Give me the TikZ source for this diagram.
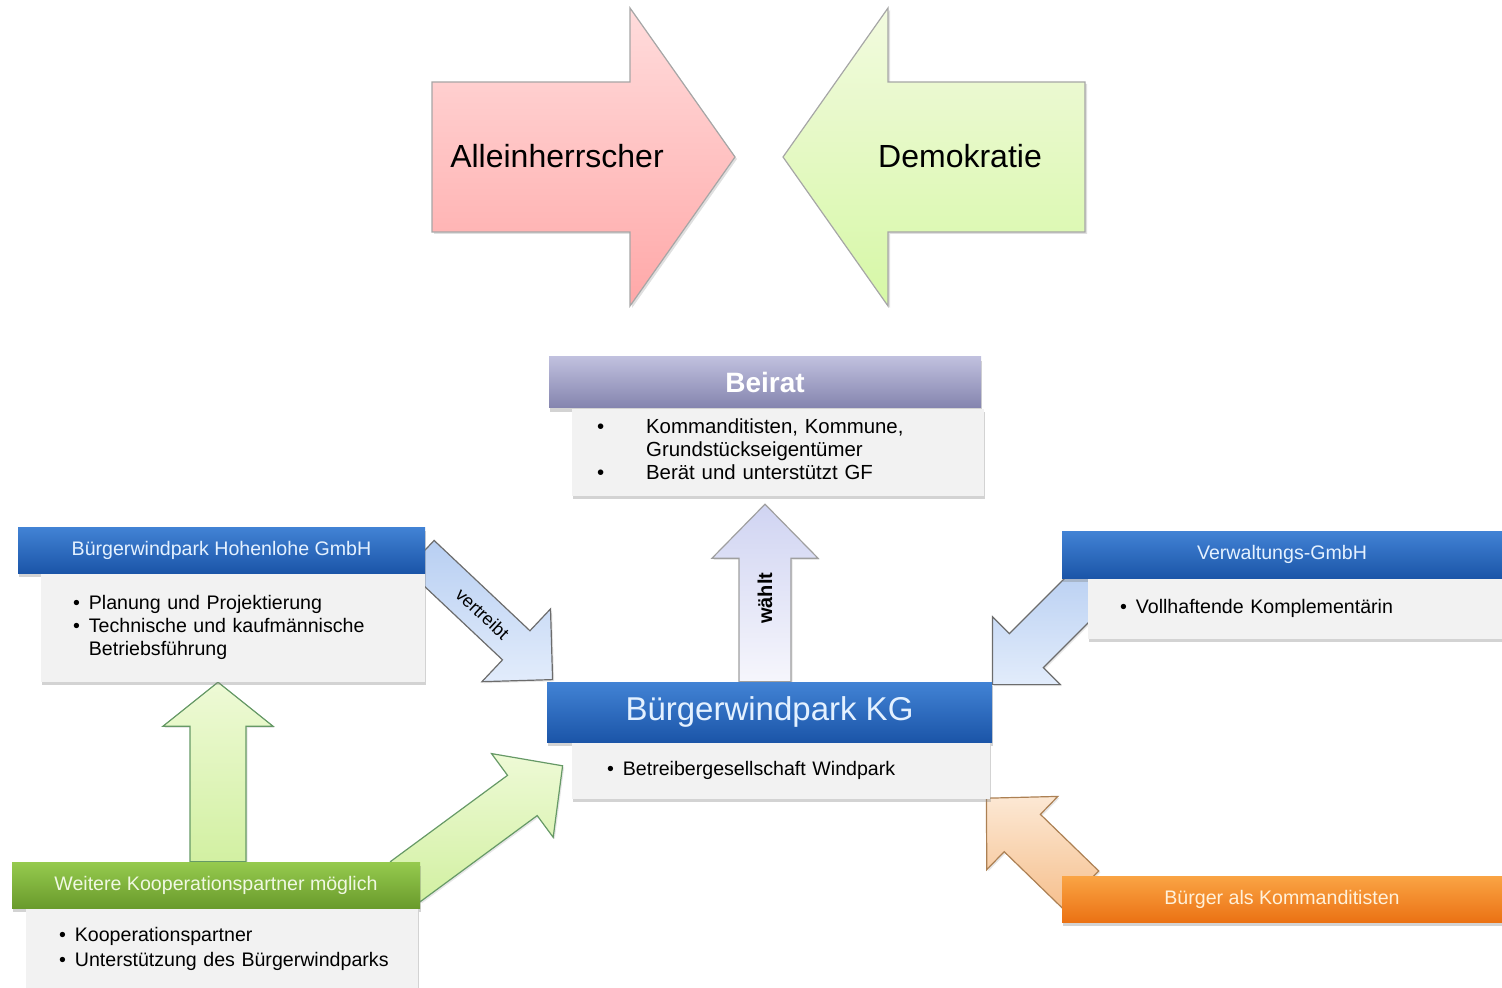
\documentclass[tikz,border=0pt]{standalone}
\usepackage{fontspec}
\setmainfont{Liberation Sans}
\usetikzlibrary{positioning}
\usetikzlibrary{calc}
\usetikzlibrary{shadows}
\usetikzlibrary{backgrounds}

\definecolor{bluetop}{HTML}{4283D5}
\definecolor{bluebot}{HTML}{1B55A8}
\definecolor{bluetxt}{HTML}{E4F1FF}
\definecolor{beirattop}{HTML}{C0C0DE}
\definecolor{beiratbot}{HTML}{8484AE}
\definecolor{greentop}{HTML}{96CA4E}
\definecolor{greenbot}{HTML}{699B2C}
\definecolor{greentxt}{HTML}{F0F8E2}
\definecolor{orangetop}{HTML}{FAA444}
\definecolor{orangebot}{HTML}{EB7214}
\definecolor{orangetxt}{HTML}{FFF1DA}
\definecolor{bodygray}{HTML}{F2F2F2}
\definecolor{redtop}{HTML}{FFDCDC}
\definecolor{redbot}{HTML}{FFA8A8}
\definecolor{limetop}{HTML}{F2FADF}
\definecolor{limebot}{HTML}{D6F8A6}
\definecolor{blarrtop}{HTML}{B8CFF2}
\definecolor{blarrbot}{HTML}{E2ECFB}
\definecolor{lvarrtop}{HTML}{D0D4F2}
\definecolor{lvarrbot}{HTML}{F6F6FC}
\definecolor{grarrtop}{HTML}{EEFAD6}
\definecolor{grarrbot}{HTML}{D2F0A2}
\definecolor{orarrtop}{HTML}{FCE8D4}
\definecolor{orarrbot}{HTML}{F6C08E}

\tikzset{
hdr/.style={
  rectangle,
  inner sep=0pt,
  minimum height=23pt,
  align=center,
  font=\fontsize{9.8}{11}\selectfont,
  drop shadow={opacity=0.35,shadow xshift=0.6pt,shadow yshift=-2pt}
  },
bluehdr/.style={hdr,top color=bluetop,bottom color=bluebot,text=bluetxt},
beirathdr/.style={hdr,top color=beirattop,bottom color=beiratbot,text=white,
  font=\bfseries\fontsize{14}{16}\selectfont},
greenhdr/.style={hdr,top color=greentop,bottom color=greenbot,text=greentxt},
orangehdr/.style={hdr,top color=orangetop,bottom color=orangebot,text=orangetxt},
body/.style={
  rectangle,
  inner xsep=16pt,
  inner ysep=0pt,
  align=left,
  fill=bodygray,
  font=\fontsize{9.8}{11.5}\selectfont,
  drop shadow={opacity=0.35,shadow xshift=0.6pt,shadow yshift=-1.8pt}
  },
bigarrow/.style={draw=gray!70,line width=0.6pt,
  drop shadow={opacity=0.25,shadow xshift=1pt,shadow yshift=-1pt}},
bigtxt/.style={font=\fontsize{16}{19}\selectfont},
blk/.style={line width=0.6pt,
  drop shadow={opacity=0.2,shadow xshift=0.8pt,shadow yshift=-0.8pt}},
bluearrow/.style={blk,draw=gray!85!black,top color=blarrtop,bottom color=blarrbot},
lavarrow/.style={blk,draw=gray!75,top color=lvarrtop,bottom color=lvarrbot},
greenarrow/.style={blk,draw=gray!50!green!40!gray,top color=grarrtop,bottom color=grarrbot},
orangearrow/.style={blk,draw=orange!35!gray,top color=orarrtop,bottom color=orarrbot}
}

% [style]{from}{to}{half shaft}{half head}{head length}
\newcommand{\blockarrow}[6][]{%
  \coordinate (hb) at ($(#3)!#6!(#2)$);
  \path[#1] ($(#2)!#4!90:(#3)$) -- ($(hb)!#4!90:(#3)$) -- ($(hb)!#5!90:(#3)$)
    -- (#3) -- ($(hb)!#5!-90:(#3)$) -- ($(hb)!#4!-90:(#3)$)
    -- ($(#2)!#4!-90:(#3)$) -- cycle;
}

\begin{document}
\begin{tikzpicture}[x=0.5pt,y=-0.5pt]
    \useasboundingbox (0,0) rectangle (1502,988);

    % top arrows
    \path[bigarrow,top color=redtop,bottom color=redbot]
      (432,82) -- (630,82) -- (630,8) -- (735,157) -- (630,306) -- (630,232) -- (432,232) -- cycle;
    \node[bigtxt] (allein) at (557,156) {Alleinherrscher};
    \path[bigarrow,top color=limetop,bottom color=limebot]
      (1085,82) -- (888,82) -- (888,8) -- (783,157) -- (888,306) -- (888,232) -- (1085,232) -- cycle;
    \node[bigtxt] (demo) at (960,156) {Demokratie};

    % boxes
    \node[beirathdr,minimum width=216pt,minimum height=25.5pt] (beirat) at (765,382.5) {Beirat};
    \node[body,text width=181pt,inner xsep=12.5pt,minimum height=43.5pt,font=\fontsize{10.2}{11.5}\selectfont]
      (beiratb) [below left=0pt and -1.5pt of beirat.south east]
      {\begin{tabular}{@{}l@{\hspace{21pt}}l@{}}
       \textbullet & Kommanditisten, Kommune,\\
                   & Grundstückseigentümer\\
       \textbullet & Berät und unterstützt GF
       \end{tabular}};

    \node[bluehdr,minimum width=203.5pt] (hohen) at (221.5,550) {Bürgerwindpark Hohenlohe GmbH};
    \node[body,text width=160pt,minimum height=54pt] (hohenb) [below left=0pt and 0pt of hohen.south east]
      {\begin{tabular}{@{}l@{\hspace{4.5pt}}l@{}}
       \textbullet & Planung und Projektierung\\
       \textbullet & Technische und kaufmännische\\
                   & Betriebsführung
       \end{tabular}};

    \node[bluehdr,minimum width=220pt,minimum height=23.5pt] (verw) at (1282,554.5) {Verwaltungs-GmbH};
    \node[body,text width=175pt,minimum height=30pt] (verwb) [below left=0pt and 0pt of verw.south east]
      {\textbullet\hspace{4.5pt}Vollhaftende Komplementärin};

    \node[bluehdr,minimum width=222.5pt,minimum height=30pt,font=\fontsize{16.5}{19}\selectfont] (kg) at (769.5,712) {Bürgerwindpark KG};
    \node[body,text width=174pt,inner xsep=17.5pt,minimum height=28pt] (kgb) [below left=0pt and 1pt of kg.south east]
      {\textbullet\hspace{4.5pt}Betreibergesellschaft Windpark};

    \node[greenhdr,minimum width=204pt] (weitere) at (216,885) {Weitere Kooperationspartner möglich};
    \node[body,text width=163pt,inner xsep=16.5pt,minimum height=40pt,font=\fontsize{9.8}{12.5}\selectfont]
      (weitereb) [below left=0pt and 1pt of weitere.south east]
      {\begin{tabular}{@{}l@{\hspace{4.5pt}}l@{}}
       \textbullet & Kooperationspartner\\
       \textbullet & Unterstützung des Bürgerwindparks
       \end{tabular}};

    \node[orangehdr,minimum width=220pt] (buerger) at (1282,899) {Bürger als Kommanditisten};

    % block arrows behind the boxes
    \begin{pgfonlayer}{background}
    \coordinate (ws) at (beirat.center |- kg.north);
    \coordinate (wt) at ($(beirat.center |- beiratb.south)+(0,8)$);
    \blockarrow[lavarrow]{ws}{wt}{13pt}{26.5pt}{27pt}

    \coordinate (vs) at ($(hohen.east)+(-5,5)$);
    \coordinate (vt) at ($(kg.north west)+(6,-2)$);
    \blockarrow[bluearrow]{vs}{vt}{10pt}{25pt}{25pt}

    \coordinate (ks) at ($(verw.south west)+(33,4)$);
    \coordinate (kt) at ($(kg.north east)+(0,3)$);
    \blockarrow[bluearrow]{ks}{kt}{12pt}{24pt}{24pt}

    \coordinate (gs) at ($(weitere.north)+(2,0)$);
    \coordinate (gt) at (gs |- hohenb.south);
    \blockarrow[greenarrow]{gs}{gt}{14pt}{27.5pt}{22pt}

    \coordinate (ds) at ($(weitere.north east)+(-15,20)$);
    \coordinate (dt) at ($(kgb.west)+(-9,-5)$);
    \blockarrow[greenarrow]{ds}{dt}{12.5pt}{26pt}{25pt}

    \coordinate (os) at ($(buerger.north west)+(19,14)$);
    \coordinate (ot) at ($(kgb.south east)+(-4,-1)$);
    \blockarrow[orangearrow]{os}{ot}{13pt}{25.5pt}{25pt}
    \end{pgfonlayer}

    \node[font=\bfseries\fontsize{10}{12}\selectfont,rotate=90] (waehlt) at ($(ws)!0.47!(wt)$) {wählt};
    \node[font=\fontsize{9}{11}\selectfont,rotate=-43] (vertreibt) at ($(vs)!0.47!(vt)$) {vertreibt};
\end{tikzpicture}
\end{document}
